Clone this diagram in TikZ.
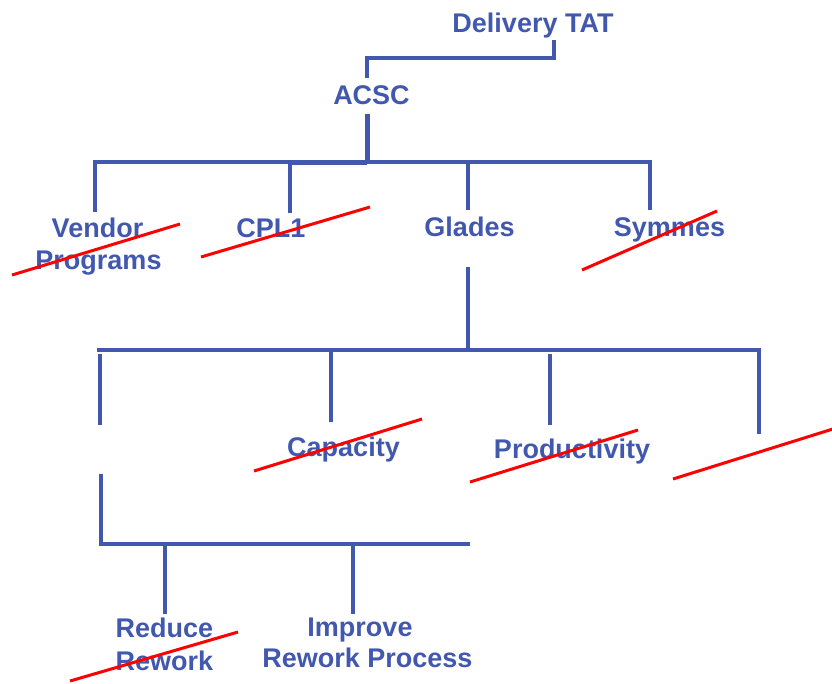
\documentclass[tikz,border=0pt]{standalone}
\usepackage{fontspec}
\setmainfont{Liberation Sans}
\definecolor{treeblue}{RGB}{66,88,174}
\definecolor{strike}{RGB}{255,0,0}
\begin{document}
\begin{tikzpicture}[x=1pt,y=-1pt,
  lbl/.style={font=\fontsize{27}{33}\selectfont\bfseries, text=treeblue, inner sep=0pt, anchor=base},
  branch/.style={draw=treeblue, line width=4.5pt},
  thin/.style={draw=treeblue, line width=3.5pt},
  cross/.style={draw=strike, line width=3pt}]
\useasboundingbox (0,0) rectangle (832,683);

% labels
\node[lbl] (tat) at (533,32) {Delivery TAT};
\node[lbl] (acsc) at (371.5,104) {ACSC};
\node[lbl] (vendorA) at (97.5,237) {Vendor};
\node[lbl] (vendorB) at (98.5,269) {Programs};
\node[lbl] (cpl) at (271,237) {CPL1};
\node[lbl] (glades) at (469.5,236) {Glades};
\node[lbl] (symmes) at (669.5,236) {Symmes};
\node[lbl] (capacity) at (343.5,456) {Capacity};
\node[lbl] (prod) at (572,458) {Productivity};
\node[lbl] (reduceA) at (164.5,637) {Reduce};
\node[lbl] (reduceB) at (164.5,670) {Rework};
\node[lbl] (improveA) at (360,636) {Improve};
\node[lbl] (improveB) at (367.5,667) {Rework Process};

% junction points of the tree
\coordinate (tatT) at (554,40);
\coordinate (tatJ) at (554,58);
\coordinate (acscJ) at (367,58);
\coordinate (acscT) at (367,78);
\coordinate (acscB) at (367,114);
\coordinate (barA) at (367,162);
\coordinate (barL) at (93,162);
\coordinate (barR) at (652,162);
\coordinate (cplJ) at (290,162);
\coordinate (gladesJ) at (468,162);
\coordinate (vendorE) at (95,212);
\coordinate (cplE) at (290,213);
\coordinate (gladesE) at (468,210);
\coordinate (symmesE) at (650,210);
\coordinate (gladesB) at (468,267);
\coordinate (barG) at (468,352);
\coordinate (barGL) at (97,350);
\coordinate (barGR) at (761,350);
\coordinate (leftJ) at (100,354);
\coordinate (leftE) at (100,425);
\coordinate (capJ) at (331,350);
\coordinate (capE) at (331,422);
\coordinate (prodJ) at (550,354);
\coordinate (prodE) at (550,425);
\coordinate (rightE) at (759,434);
\coordinate (lowT) at (101,474);
\coordinate (lowJ) at (101,546);
\coordinate (lowR) at (470,544);
\coordinate (redJ) at (165,544);
\coordinate (redE) at (165,614);
\coordinate (impJ) at (353,544);
\coordinate (impE) at (353,614);

% top connector
\draw[thin] (tatT) -- (tatJ) -| (acscT);
\draw[draw=treeblue, line width=5pt] (acscB) -- (barA);

% first level
\draw[branch] (barL) -- (barR);
\draw[branch, line width=5pt] (cplJ) -- (barA);
\draw[branch] (95,162) -- (vendorE);
\draw[branch] (cplJ) -- (cplE);
\draw[branch] (gladesJ) -- (gladesE);
\draw[branch] (650,162) -- (symmesE);

% second level
\draw[branch] (gladesB) -- (barG);
\draw[branch] (barGL) -- (barGR);
\draw[branch] (leftJ) -- (leftE);
\draw[branch] (capJ) -- (capE);
\draw[branch] (prodJ) -- (prodE);
\draw[branch] (759,350) -- (rightE);

% third level
\draw[branch] (lowT) -- (lowJ);
\draw[branch] (99,544) -- (lowR);
\draw[branch] (redJ) -- (redE);
\draw[branch] (impJ) -- (impE);

% strike-through marks
\coordinate (s1a) at (12,275);   \coordinate (s1b) at (180,224);
\coordinate (s2a) at (201,257);  \coordinate (s2b) at (370,207);
\coordinate (s3a) at (582,270);  \coordinate (s3b) at (717,211);
\coordinate (s4a) at (254,471);  \coordinate (s4b) at (422,419);
\coordinate (s5a) at (470,482);  \coordinate (s5b) at (638,430);
\coordinate (s6a) at (673,479);  \coordinate (s6b) at (836,428);
\coordinate (s7a) at (70,681);   \coordinate (s7b) at (238,632);
\begin{scope}
\clip (0,0) rectangle (832,683);
\foreach \p in {1,...,7} {\draw[cross] (s\p a) -- (s\p b);}
\end{scope}
\end{tikzpicture}
\end{document}
